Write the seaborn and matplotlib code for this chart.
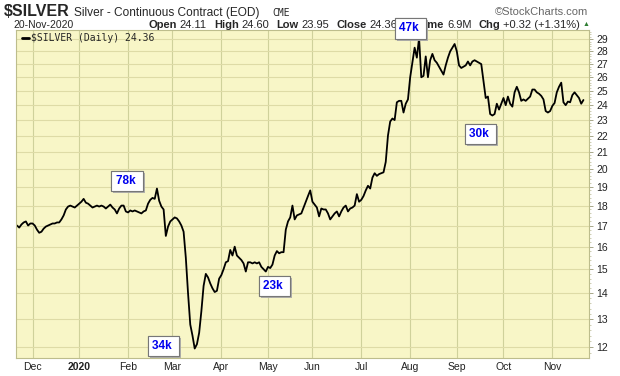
import numpy as np
import pandas as pd
import matplotlib
matplotlib.use("Agg")
import matplotlib.pyplot as plt
import matplotlib.ticker as mticker
import matplotlib.patheffects as pe
import seaborn as sns

# daily closes, one list per month
nov_2019 = [17.0, 16.9, 17.05, 17.15, 17.2, 17.0, 17.1]
dec_2019 = [17.1, 17.0, 16.8, 16.65, 16.7, 16.85, 16.95, 17.0, 17.05, 17.1, 17.1,
            17.15, 17.15, 17.3, 17.5, 17.8, 17.95, 18.0, 17.95, 17.9, 18.0]
jan_2020 = [18.1, 18.2, 18.35, 18.15, 18.1, 18.0, 17.9, 17.95, 18.0, 17.95, 18.0,
            17.95, 17.85, 17.95, 18.05, 17.9, 17.8, 17.6, 17.85, 18.0, 18.0, 17.7]
feb_2020 = [17.65, 17.75, 17.7, 17.75, 17.7, 17.65, 17.6, 17.7, 17.75, 18.1,
            18.3, 18.4, 18.35, 18.9, 18.25, 17.95, 17.8, 16.5, 16.95, 17.2]
mar_2020 = [17.3, 17.4, 17.35, 17.2, 17.0, 16.7, 15.5, 14.0, 12.8, 12.4, 11.95,
            12.1, 12.5, 13.3, 14.3, 14.8, 14.65, 14.4, 14.2, 14.05, 14.1, 14.6]
apr_2020 = [14.75, 15.0, 15.3, 15.35, 15.85, 15.6, 16.0, 15.6, 15.5, 15.4, 15.25,
            14.9, 15.3, 15.3, 15.25, 15.3, 15.25, 15.3, 15.1, 15.0, 14.9]
may_2020 = [15.1, 15.05, 15.2, 15.6, 15.8, 15.7, 15.75, 15.75, 16.8, 17.2,
            17.4, 18.0, 17.3, 17.5, 17.55, 17.6, 17.9, 18.2, 18.5, 18.8]
jun_2020 = [18.2, 18.05, 17.9, 17.45, 17.85, 17.8, 17.8, 17.6, 17.3, 17.45, 17.6,
            17.7, 17.45, 17.7, 17.9, 18.0, 17.7, 17.85, 17.9, 18.0, 18.6, 18.2]
jul_2020 = [18.3, 18.5, 18.8, 19.05, 18.9, 19.5, 19.75, 19.6, 19.7, 19.75, 19.8,
            20.4, 22.0, 22.9, 23.1, 23.0, 24.2, 24.3, 24.3, 23.5, 24.1, 24.4]
aug_2020 = [26.0, 27.1, 28.3, 27.5, 29.1, 26.0, 26.1, 27.6, 26.0, 27.3, 27.8,
            27.3, 27.1, 26.8, 26.5, 26.2, 26.9, 27.5, 28.0, 28.3, 28.6]
sep_2020 = [28.0, 26.9, 26.7, 26.8, 26.9, 27.2, 26.9, 27.2, 27.3, 27.2, 27.1,
            27.0, 25.7, 24.5, 24.6, 23.4, 23.3, 23.4, 24.1, 23.7, 24.1]
oct_2020 = [24.5, 24.0, 24.6, 24.1, 23.9, 24.9, 25.3, 24.9, 24.3, 24.4, 24.3,
            24.45, 24.6, 25.1, 25.1, 24.9, 24.8, 24.65, 24.4, 23.6, 23.5, 23.6]
nov_2020 = [23.95, 24.15, 24.9, 25.3, 25.6, 24.2, 24.0, 24.25, 24.2, 24.7,
            24.9, 24.7, 24.5, 24.1, 24.36]

holidays = ["2019-11-28", "2019-12-25", "2020-01-01", "2020-04-10",
            "2020-05-25", "2020-07-03", "2020-09-07"]

# volume callouts
vol_labels = ["78k", "34k", "23k", "47k", "30k"]
vol_pos = [(49.5, 19.3), (65.8, 12.03), (116, 14.29), (177, 29.9), (208.5, 22.1)]

# quote line in the header
quote_names = ["Open", "High", "Low", "Close", "Volume", "Chg"]
quote_vals = ["24.11", "24.60", "23.95", "24.36", "6.9M", "+0.32 (+1.31%)"]

prices = (nov_2019 + dec_2019 + jan_2020 + feb_2020 + mar_2020 + apr_2020 + may_2020
          + jun_2020 + jul_2020 + aug_2020 + sep_2020 + oct_2020 + nov_2020)
dates = pd.bdate_range("2019-11-20", "2020-11-20")
dates = dates[~dates.isin(pd.to_datetime(holidays))]
df = pd.DataFrame({"date": dates, "close": prices})
df["idx"] = np.arange(len(df))

# first trading day of each month -> x ticks
firsts = df.groupby(df["date"].dt.to_period("M"))["idx"].min().iloc[1:]
tick_pos = firsts.values
tick_lab = [("2020" if p.month == 1 else p.strftime("%b")) for p in firsts.index]

sns.set_style("white")
plt.rcParams["font.family"] = ["Liberation Sans", "DejaVu Sans"]

W, H = 620, 376
fig = plt.figure(figsize=(W / 100, H / 100), dpi=100)
ax = fig.add_axes([16 / W, 1 - 358 / H, (589 - 16) / W, (358 - 30) / H])
ax.set_zorder(5)
ax.set_facecolor("#f8f6c7")

sns.lineplot(data=df, x="idx", y="close", ax=ax, color="black", linewidth=1.3)

ax.set_yscale("log")
ax.set_ylim(11.63, 29.77)
ax.set_xlim(-0.45, 257.5)

yt = list(range(12, 30))
ax.yaxis.set_major_locator(mticker.FixedLocator(yt))
ax.yaxis.set_minor_locator(mticker.FixedLocator(np.arange(11.8, 29.8, 0.2)))
ax.yaxis.set_major_formatter(mticker.FixedFormatter([str(v) for v in yt]))
ax.yaxis.set_minor_formatter(mticker.NullFormatter())
ax.yaxis.tick_right()
ax.tick_params(axis="y", which="major", direction="out", length=3, width=0.6,
               color="#999977", labelsize=7.5, pad=2, labelcolor="#222222")
ax.tick_params(axis="y", which="minor", direction="out", length=1.5, width=0.5,
               color="#bbbb99")

ax.set_xticks(tick_pos)
ax.set_xticklabels(tick_lab)
ax.tick_params(axis="x", length=0, labelsize=7.5, pad=3, labelcolor="#222222")
for lab in ax.get_xticklabels():
    if lab.get_text() == "2020":
        lab.set_fontweight("bold")

ax.set_xlabel("")
ax.set_ylabel("")
ax.grid(True, which="major", axis="y", color="#dedba6", linewidth=0.8)
ax.grid(True, which="major", axis="x", color="#cfd19b", linewidth=0.8)
for s in ax.spines.values():
    s.set_color("#bdbd8c")
    s.set_linewidth(0.8)

# legend entry
ax.plot([0.01, 0.022], [0.975, 0.975], transform=ax.transAxes, color="black",
        linewidth=2, clip_on=False)
ax.text(0.027, 0.975, "$SILVER (Daily) 24.36", transform=ax.transAxes,
        family="DejaVu Sans Mono", fontsize=7, va="center", ha="left")

# volume callouts, white box with a grey drop shadow
for lab, (xv, yv) in zip(vol_labels, vol_pos):
    a = ax.annotate(lab + " ", (xv, yv), ha="center", va="center", fontsize=8.5,
                    fontweight="bold", color="#0000ee", annotation_clip=False,
                    zorder=10,
                    bbox=dict(boxstyle="square,pad=0.35", fc="white",
                              ec="#777777", lw=0.8))
    a.get_bbox_patch().set_path_effects(
        [pe.withSimplePatchShadow(offset=(1.5, -1.5), shadow_rgbFace="#aaaaaa",
                                  alpha=0.9), pe.Normal()])

# header
def ftext(x, y, s, **kw):
    return fig.text(x / W, 1 - y / H, s, va="center", **kw)

ftext(4, 12, "$SILVER", fontsize=11.5, fontweight="bold")
ftext(74, 13, "Silver - Continuous Contract (EOD)", fontsize=8.6)
ftext(272, 13, "CME", fontsize=7, family="DejaVu Sans Mono")
ftext(588, 12, "\u00a9StockCharts.com", fontsize=8, color="#666666", ha="right")
ftext(13, 25, "20-Nov-2020", fontsize=7.5)

# quote line: lay the pieces end to end between x=153 and x=580
renderer = fig.canvas.get_renderer()
pieces = []
for n, v in zip(quote_names, quote_vals):
    pieces.append((ftext(0, 25, n, fontsize=8, fontweight="bold"), 3))
    pieces.append((ftext(0, 25, v, fontsize=8), 7))
widths = [t.get_window_extent(renderer).width for t, _ in pieces]
gaps = [g for _, g in pieces][:-1]
total = sum(widths) + sum(gaps)
x = 580 - total
for (t, g), w in zip(pieces, widths):
    t.set_x(x / W)
    x += w + g
ftext(586, 25, "\u25b2", fontsize=5, color="#2e7d32", ha="center")

fig.savefig("out.png", dpi=100, facecolor="white")
